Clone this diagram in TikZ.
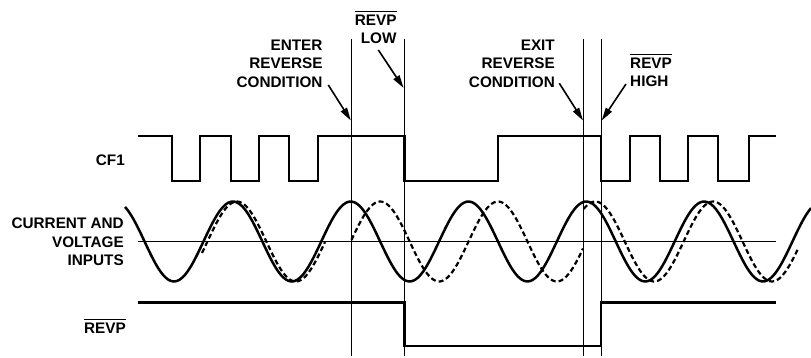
\documentclass[tikz,border=0pt]{standalone}
\usepackage{fontspec}
\setmainfont{Liberation Sans}
\usetikzlibrary{arrows.meta}
\newcommand\ovl[1]{\vbox{\hrule height 1.1pt\kern 3pt\hbox{#1}}}
\begin{document}
\begin{tikzpicture}[x=1pt,y=-1pt,
  lbl/.style={font=\fontsize{15.3}{18.5}\selectfont\bfseries, inner sep=0pt, align=right},
  thinl/.style={line width=0.9pt},
  wave/.style={line width=2.4pt, line join=miter},
  dwave/.style={line width=2.2pt, dash pattern=on 5pt off 3pt},
  ptr/.style={line width=1.6pt, -{Triangle[length=13pt,width=7pt]}}
]
\useasboundingbox (0,0) rectangle (811,358);
% vertical markers
\coordinate (v1t) at (351.5,39); \coordinate (v1b) at (351.5,356);
\coordinate (v2t) at (404.3,39); \coordinate (v2b) at (404.3,356);
\coordinate (v3t) at (583.7,39); \coordinate (v3b) at (583.7,356);
\coordinate (v4t) at (601,39);   \coordinate (v4b) at (601,356);
\foreach \v in {1,2,3,4} \draw[thinl] (v\v t) -- (v\v b);
% labels
\node[lbl, anchor=north east] (enter) at (322.7,39.3) {ENTER\\REVERSE\\CONDITION};
\node[lbl, anchor=north east] (low) at (396.7,10.5) {\ovl{REVP}\\LOW};
\node[lbl, anchor=north east] (exit) at (555,39.3) {EXIT\\REVERSE\\CONDITION};
\node[lbl, anchor=north west, align=left] (high) at (630,53.5) {\ovl{REVP}\\HIGH};
\node[lbl, anchor=north east] (cf1) at (125,155) {CF1};
\node[lbl, anchor=north east] (cv) at (124,217.7) {CURRENT AND\\VOLTAGE\\INPUTS};
\node[lbl, anchor=north east] (revp) at (126,318.5) {\ovl{REVP}};
% arrows
\coordinate (a1s) at (328.3,85);  \coordinate (a1e) at (350.8,120.5);
\coordinate (a2s) at (378.3,50);  \coordinate (a2e) at (403.6,88);
\coordinate (a3s) at (559.3,83.3); \coordinate (a3e) at (583,120.5);
\coordinate (a4s) at (626,84);    \coordinate (a4e) at (601.7,120.5);
\draw[ptr] (a1s) -- (a1e);
\draw[ptr] (a2s) -- (a2e);
\draw[ptr] (a3s) -- (a3e);
\draw[ptr] (a4s) -- (a4e);
% CF1
\draw[wave] (138,136.3) -| (172,181) -| (200,136.3) -| (231,181) -| (259,136.3)
  -| (289,181) -| (318,136.3) -| (404.3,181) -| (498,136.3) -| (601,181)
  -| (630,136.3) -| (660,181) -| (688,136.3) -| (718,181) -| (749,136.3) -- (776,136.3);
% axis
\draw[thinl] (138,241) -- (776,241);
% sine waves
\draw[wave, line width=2.5pt] plot[domain=125:811, samples=240, smooth] (\x, {241.5-40*cos((\x-232.9)*3.05603)});
\draw[dwave] plot[domain=202:325, samples=60, smooth] (\x, {241.5-40*cos((\x-236.9)*3.05603)});
\draw[dwave] plot[domain=351.5:583, samples=100, smooth] (\x, {241.5-40*cos((\x-262.4)*3.05603)});
\draw[dwave] plot[domain=583.7:798, samples=100, smooth] (\x, {241.5-40*cos((\x-241.9)*3.05603)});
% REVP
\draw[wave] (138,302.3) -| (404.3,346) -| (601,302.3) -- (776,302.3);
\end{tikzpicture}
\end{document}
